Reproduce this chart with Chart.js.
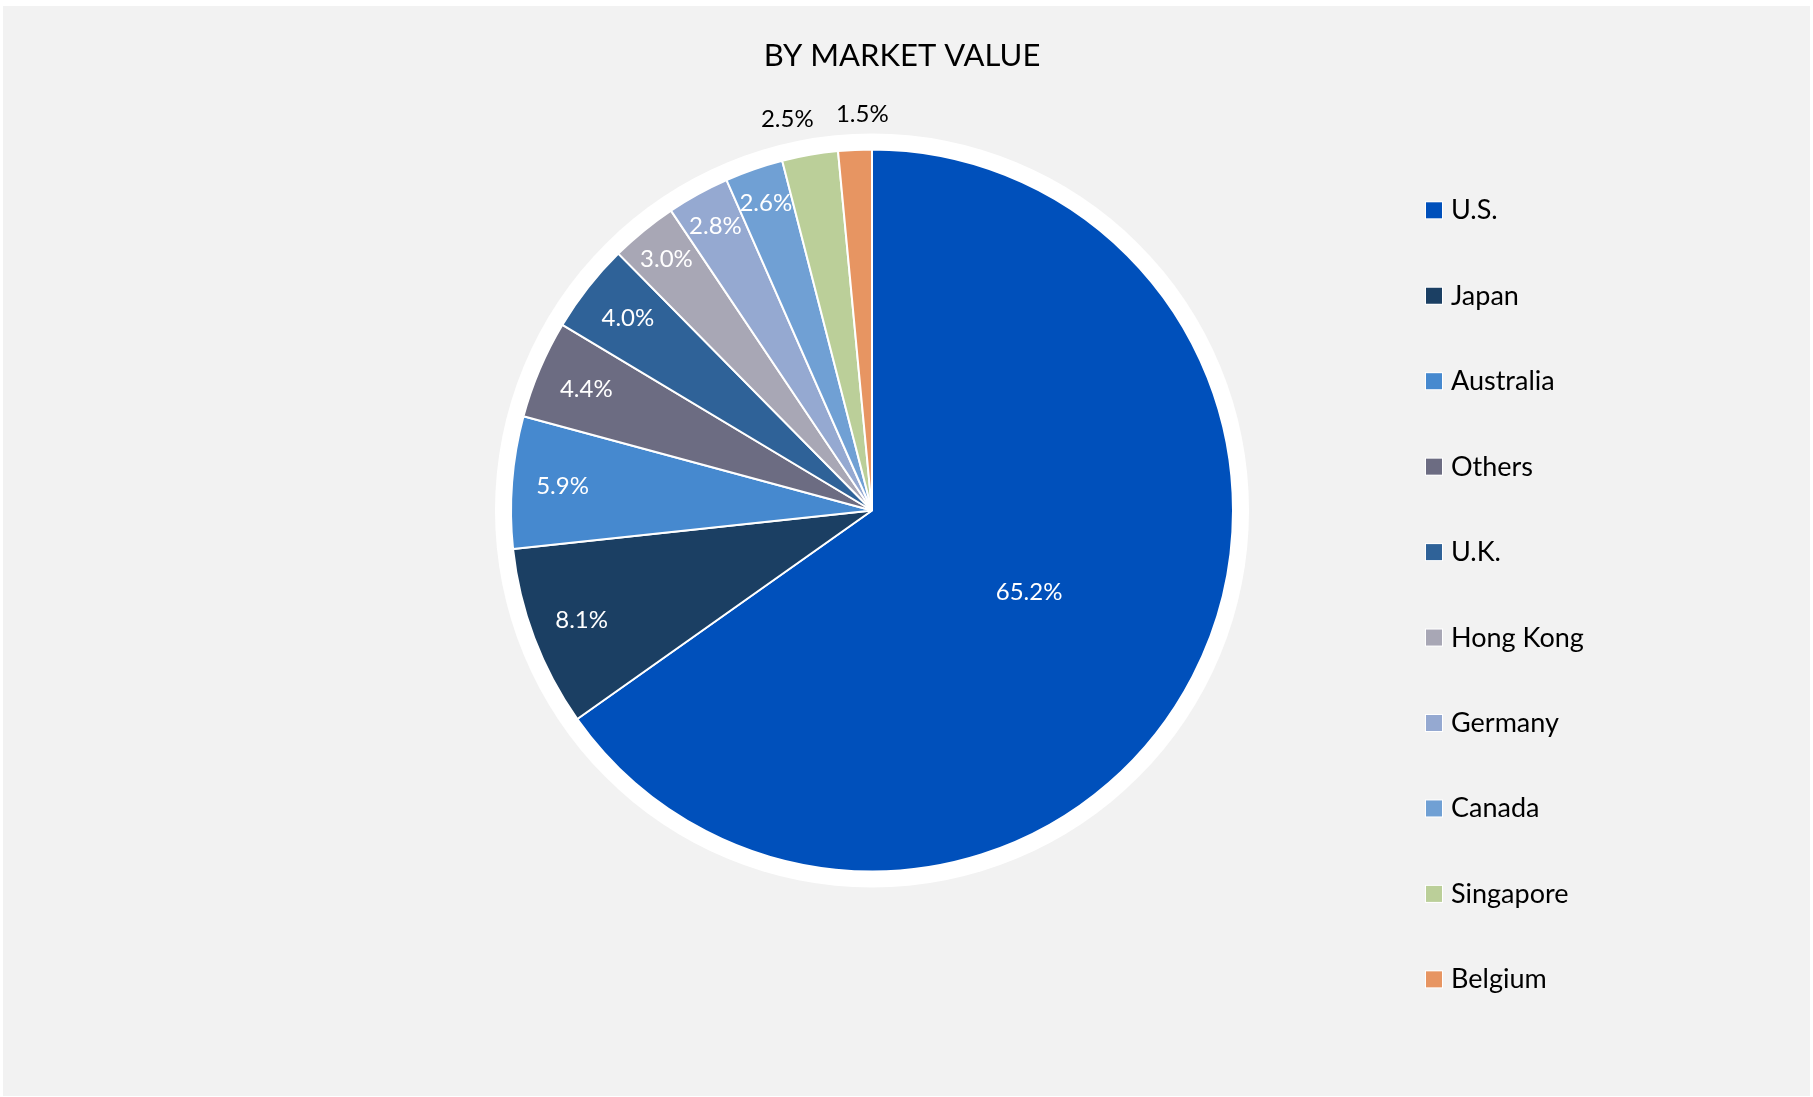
<!DOCTYPE html>
<html>
<head>
<meta charset="utf-8">
<script src="https://cdn.jsdelivr.net/npm/chart.js@4"></script>
<style>
  html, body { margin: 0; padding: 0; background: #ffffff; }
  canvas { display: block; }
</style>
</head>
<body>
<canvas id="marketChart" width="1813" height="1097"></canvas>
<script>
const countries = ['U.S.', 'Japan', 'Australia', 'Others', 'U.K.', 'Hong Kong', 'Germany', 'Canada', 'Singapore', 'Belgium'];
const shares = [65.2, 8.1, 5.9, 4.4, 4.0, 3.0, 2.8, 2.6, 2.5, 1.5];
const colors = ['#0050BB', '#1B3F63', '#4689CF', '#6C6C82', '#2F6298', '#A8A7B5', '#95A9D1', '#70A0D4', '#BBCF99', '#E79562'];
const chartTitle = 'BY MARKET VALUE';

const FONT = 'Lato, "Open Sans", sans-serif';

// background panel, white ring, slice labels, title and legend
const decorPlugin = {
    id: 'decor',
    beforeDraw(chart) {
        const ctx = chart.ctx;
        ctx.save();
        ctx.fillStyle = '#f2f2f2';
        ctx.fillRect(3, 6, 1807, 1090);
        ctx.restore();
    },
    beforeDatasetsDraw(chart) {
        const arc = chart.getDatasetMeta(0).data[0];
        const ctx = chart.ctx;
        ctx.save();
        ctx.fillStyle = '#ffffff';
        ctx.beginPath();
        ctx.arc(arc.x, arc.y, arc.outerRadius + 16, 0, Math.PI * 2);
        ctx.fill();
        ctx.restore();
    },
    afterDatasetsDraw(chart) {
        const ctx = chart.ctx;
        const arcs = chart.getDatasetMeta(0).data;
        ctx.save();
        ctx.font = '24px ' + FONT;
        ctx.textAlign = 'center';
        ctx.textBaseline = 'middle';
        let lastOutsideX = null;
        for (let i = arcs.length - 1; i >= 0; i--) {
            const a = arcs[i];
            const mid = (a.startAngle + a.endAngle) / 2;
            const v = shares[i];
            let f, color;
            if (v > 50) { f = 0.49; color = '#ffffff'; }
            else if (v > 3.5) { f = 0.86; color = '#ffffff'; }
            else if (v >= 2.6) { f = 0.9; color = '#ffffff'; }
            else { f = 1.1; color = '#000000'; }
            let x = a.x + Math.cos(mid) * a.outerRadius * f;
            const y = a.y + Math.sin(mid) * a.outerRadius * f;
            if (f > 1) {
                x += 9;
                if (lastOutsideX !== null && lastOutsideX - x < 75) x = lastOutsideX - 75;
                lastOutsideX = x;
            }
            ctx.fillStyle = color;
            ctx.fillText(v.toFixed(1) + '%', x, y);
        }
        ctx.restore();
    },
    afterDraw(chart) {
        const ctx = chart.ctx;
        ctx.save();
        ctx.fillStyle = '#000000';
        ctx.font = '31px ' + FONT;
        ctx.textAlign = 'center';
        ctx.textBaseline = 'alphabetic';
        ctx.fillText(chartTitle, 902, 66);

        ctx.font = '27px ' + FONT;
        ctx.textAlign = 'left';
        countries.forEach((name, i) => {
            const base = 219.3 + i * 85.45;
            ctx.fillStyle = '#ffffff';
            ctx.fillRect(1425, base - 18, 18, 18);
            ctx.fillStyle = colors[i];
            ctx.fillRect(1426, base - 17, 16, 16);
            ctx.fillStyle = '#000000';
            ctx.fillText(name, 1451, base);
        });
        ctx.restore();
    }
};

const ctx = document.getElementById('marketChart').getContext('2d');
new Chart(ctx, {
    type: 'pie',
    data: {
        labels: countries,
        datasets: [{
            data: shares,
            backgroundColor: colors,
            borderColor: '#ffffff',
            borderWidth: 2,
            radius: 361
        }]
    },
    options: {
        responsive: false,
        devicePixelRatio: 1,
        animation: false,
        layout: {
            padding: { left: 511, right: 580, top: 149.5, bottom: 225.5 }
        },
        plugins: {
            legend: { display: false },
            title: { display: false },
            tooltip: { enabled: false }
        }
    },
    plugins: [decorPlugin]
});
</script>
</body>
</html>
